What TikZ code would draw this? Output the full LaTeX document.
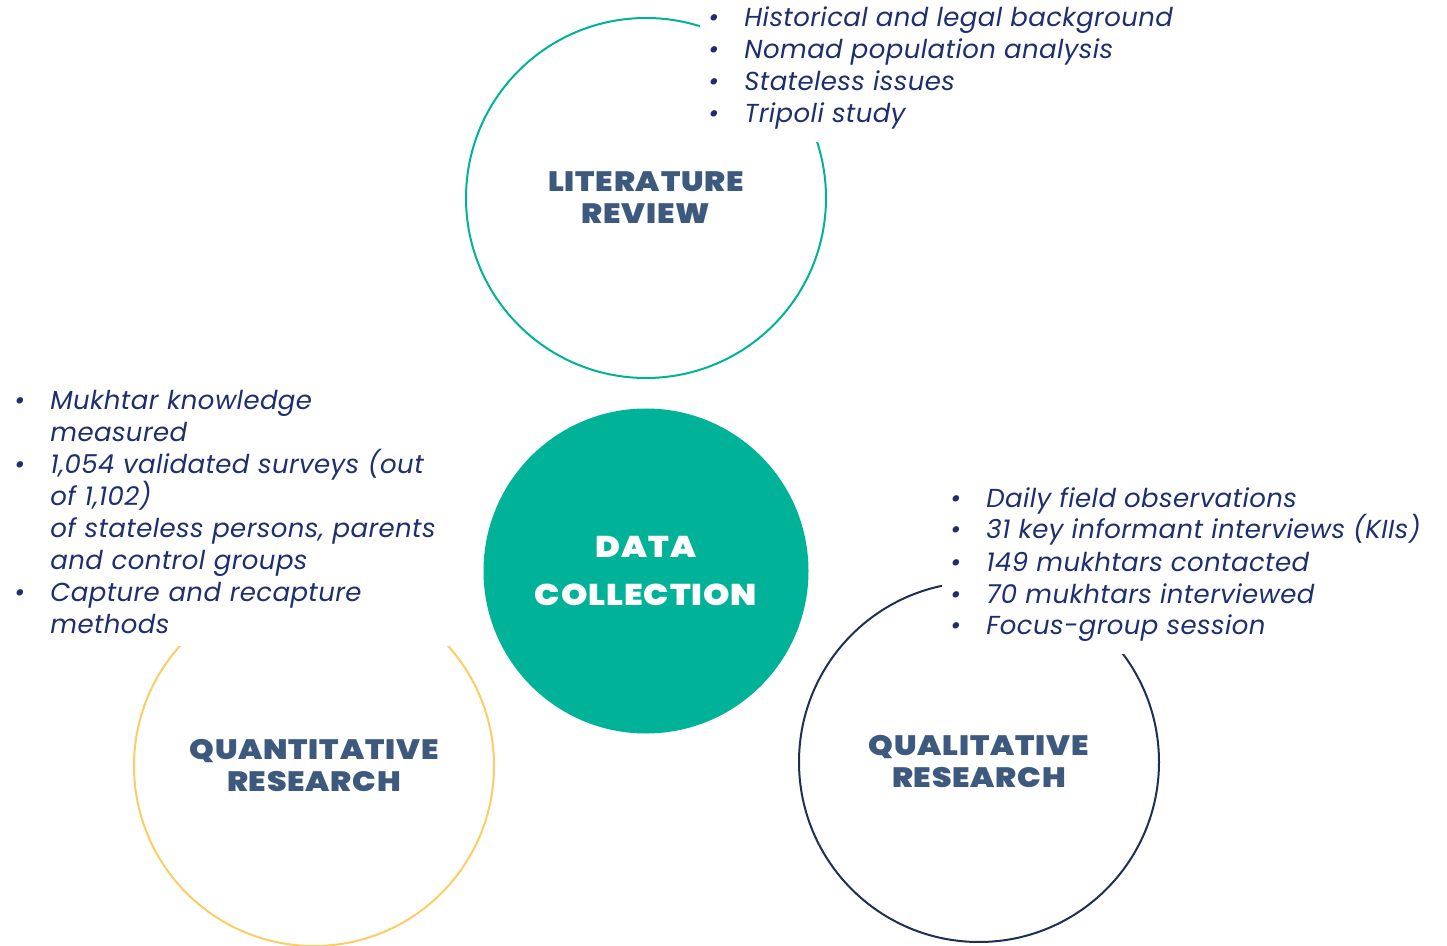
\documentclass[tikz,border=0pt]{standalone}
\usepackage{fontspec}
\setmainfont{Poppins}[LetterSpace=1.5]
\newfontfamily\headfont{Poppins Black}[FakeStretch=1.12,LetterSpace=3]
\definecolor{dcteal}{HTML}{00B398}
\definecolor{quantyellow}{HTML}{FCCD66}
\definecolor{qualnavy}{HTML}{1D2F55}
\definecolor{headblue}{HTML}{3D5A7E}
\definecolor{listnavy}{HTML}{1D2F6F}
\newcommand{\bul}{\makebox[18pt][l]{\textbullet}}
\newcommand{\hang}{\hspace*{18pt}}
\tikzset{
  ring/.style={circle,draw=#1,line width=1pt,minimum size=180pt,inner sep=0pt,
    align=center,text=headblue,font={\headfont\fontsize{14}{16}\selectfont}},
  hub/.style={circle,fill=dcteal,minimum size=162.5pt,inner sep=0pt,
    align=center,text=white,font={\headfont\fontsize{15}{24}\selectfont}},
  list/.style={fill=white,inner xsep=4pt,inner ysep=6pt,align=left,anchor=base west,
    text=listnavy,font={\itshape\fontsize{13}{16}\selectfont}}
}
\begin{document}
\begin{tikzpicture}[x=0.5pt,y=-0.5pt]
  \useasboundingbox (0,0) rectangle (1447,946);
  \node[ring=dcteal] (lit) at (646,198) {LITERATURE\\REVIEW};
  \node[ring=quantyellow] (quant) at (314,766) {QUANTITATIVE\\RESEARCH};
  \node[ring=qualnavy] (qual) at (979,762) {QUALITATIVE\\RESEARCH};
  \node[hub] (data) at (646,571) {DATA\\COLLECTION};
  % lists sit on the baseline of their last line
  \node[list] (litlist) at (700,123) {\bul Historical and legal background\\
    \bul Nomad population analysis\\
    \bul Stateless issues\\
    \bul Tripoli study};
  % fixed width: this one sits on its first line
  \node[list,text width=217pt] (quantlist) at (6,410) {\bul Mukhtar knowledge\\
    \hang measured\\
    \bul 1,054 validated surveys (out\\
    \hang of 1,102)\\
    \hang of stateless persons, parents\\
    \hang and control groups\\
    \bul Capture and recapture\\
    \hang methods};
  \node[list] (quallist) at (942,635) {\bul Daily field observations\\
    \bul 31 key informant interviews (KIIs)\\
    \bul 149 mukhtars contacted\\
    \bul 70 mukhtars interviewed\\
    \bul Focus-group session};
\end{tikzpicture}
\end{document}
